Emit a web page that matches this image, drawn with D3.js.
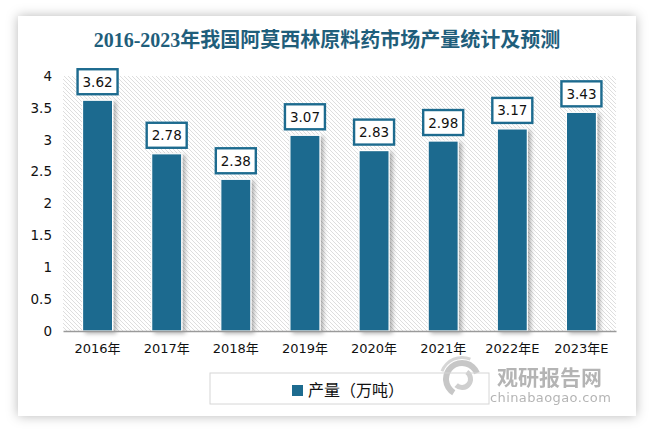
<!DOCTYPE html>
<html><head><meta charset="utf-8">
<script src="https://cdn.jsdelivr.net/npm/d3@7"></script>
<style>
html,body{margin:0;padding:0;background:#fff;}
svg{display:block;}
</style></head>
<body>
<svg id="chart" width="653" height="433"></svg>
<script>
const title = "2016-2023年我国阿莫西林原料药市场产量统计及预测";
const categories = ["2016年","2017年","2018年","2019年","2020年","2021年","2022年E","2023年E"];
const values = [3.62, 2.78, 2.38, 3.07, 2.83, 2.98, 3.17, 3.43];
const yTicks = [0, 0.5, 1, 1.5, 2, 2.5, 3, 3.5, 4];
const seriesName = "产量（万吨）";

const W = 653, H = 433;
const barColor = "#1d6b8f";
const titleColor = "#1f5e7b";
const svg = d3.select("#chart");
const defs = svg.append("defs");

const cardShadow = defs.append("filter").attr("id","cardShadow")
  .attr("x","-10%").attr("y","-10%").attr("width","120%").attr("height","120%");
cardShadow.append("feDropShadow").attr("dx",0).attr("dy",0).attr("stdDeviation",6)
  .attr("flood-color","#000").attr("flood-opacity",0.28);

const barShadow = defs.append("filter").attr("id","barShadow")
  .attr("x","-30%").attr("y","-10%").attr("width","160%").attr("height","130%");
barShadow.append("feDropShadow").attr("dx",3).attr("dy",2).attr("stdDeviation",2)
  .attr("flood-color","#000").attr("flood-opacity",0.3);

const pat = defs.append("pattern").attr("id","hatch").attr("patternUnits","userSpaceOnUse")
  .attr("width",4).attr("height",4);
pat.append("rect").attr("width",4).attr("height",4).attr("fill","#fff");
pat.append("path").attr("d","M-1,-1 L5,5 M-1,3 L1,5 M3,-1 L5,1")
  .attr("stroke","#d6d6d6").attr("stroke-width",0.8);

// card
svg.append("rect").attr("x",18).attr("y",16).attr("width",618).attr("height",400)
  .attr("fill","#fff").attr("filter","url(#cardShadow)");

// title
svg.append("text").attr("x",327).attr("y",47).attr("text-anchor","middle")
  .attr("font-family","'Liberation Serif','Noto Sans CJK SC',serif")
  .attr("font-weight","bold").attr("font-size",20).attr("fill",titleColor)
  .text(title);

const margin = {left:63, right:616, top:76, bottom:331};
const x = d3.scaleBand().domain(categories).range([margin.left, margin.right]).paddingInner(0.565).paddingOuter(0.2825);
const y = d3.scaleLinear().domain([0,4]).range([margin.bottom, margin.top]);

// plot background hatch
svg.append("rect").attr("x",margin.left).attr("y",margin.top)
  .attr("width",margin.right-margin.left).attr("height",margin.bottom-margin.top)
  .attr("fill","url(#hatch)");

// y axis
const yAxis = d3.axisLeft(y).tickValues(yTicks).tickSize(0).tickPadding(11)
  .tickFormat(d => String(d));
const gy = svg.append("g").attr("transform",`translate(${margin.left},0)`).call(yAxis);
gy.select(".domain").remove();
gy.selectAll("text").attr("font-family","'DejaVu Sans',sans-serif").attr("font-size",13.5).attr("fill","#111");

// bars
svg.append("g").selectAll("rect").data(values).join("rect")
  .attr("x",(d,i)=>x(categories[i])).attr("y",d=>y(d))
  .attr("width",x.bandwidth()).attr("height",d=>y(0)-y(d))
  .attr("fill",barColor).attr("stroke","#fff").attr("stroke-width",1.2)
  .attr("filter","url(#barShadow)");

// x axis
const xAxis = d3.axisBottom(x).tickSize(0).tickPadding(13);
const gx = svg.append("g").attr("transform",`translate(0,${margin.bottom})`).call(xAxis);
gx.select(".domain").attr("stroke","#9a9a9a").attr("stroke-width",1.5);
gx.selectAll("text").attr("font-family","'DejaVu Sans','Noto Sans CJK SC',sans-serif").attr("font-size",13).attr("fill","#111");

// data labels
const lab = svg.append("g").selectAll("g").data(values).join("g")
  .attr("transform",(d,i)=>`translate(${x(categories[i])+x.bandwidth()/2},${y(d)-6})`);
lab.append("rect").attr("x",-20).attr("y",-25).attr("width",40).attr("height",25)
  .attr("fill","#fff").attr("stroke",barColor).attr("stroke-width",2.4);
lab.append("text").attr("x",0).attr("y",-7.5).attr("text-anchor","middle")
  .attr("font-family","'DejaVu Sans',sans-serif").attr("font-size",13.5).attr("fill","#111")
  .text(d=>d.toFixed(2));

// watermark
const wm = svg.append("g").attr("opacity",0.55);
const lg = wm.append("g").attr("transform","translate(462,379)");
lg.append("path").attr("d",d3.arc()({innerRadius:13,outerRadius:19,startAngle:-2.6,endAngle:1.2})).attr("fill","#9a9a9a");
lg.append("path").attr("d",d3.arc()({innerRadius:6,outerRadius:11,startAngle:0.6,endAngle:3.9})).attr("fill","#a8a8a8");
lg.append("path").attr("d",d3.arc()({innerRadius:20,outerRadius:23,startAngle:-1.2,endAngle:0.4})).attr("fill","#b5b5b5");
wm.append("text").attr("x",497).attr("y",385)
  .attr("font-family","'Noto Sans CJK SC',sans-serif").attr("font-weight","bold")
  .attr("font-size",21).attr("fill","#777").text("观研报告网");
wm.append("text").attr("x",490).attr("y",402)
  .attr("font-family","'DejaVu Sans',sans-serif").attr("font-size",13)
  .attr("letter-spacing",0.4).attr("fill","#777").text("chinabaogao.com");

// legend
svg.append("rect").attr("x",210).attr("y",373).attr("width",279).attr("height",31)
  .attr("fill","none").attr("stroke","#d6d6d6").attr("stroke-width",1);
svg.append("rect").attr("x",292).attr("y",385).attr("width",11).attr("height",11).attr("fill",barColor);
svg.append("text").attr("x",308).attr("y",396)
  .attr("font-family","'Noto Sans CJK SC',sans-serif").attr("font-size",16).attr("fill","#111")
  .text(seriesName);
</script>
</body></html>
